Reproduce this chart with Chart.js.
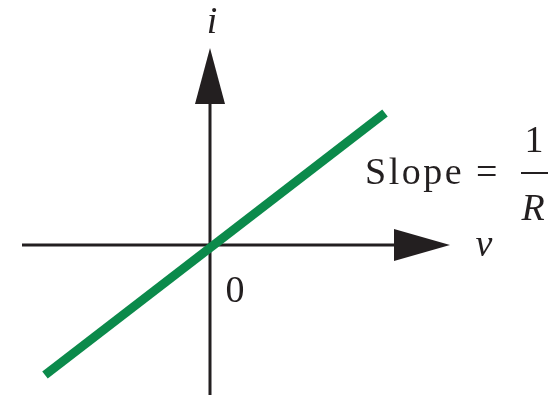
<!DOCTYPE html>
<html>
<head>
<meta charset="utf-8">
<script src="https://cdn.jsdelivr.net/npm/chart.js@4"></script>
<style>
  html, body { margin: 0; padding: 0; background: #fff; }
  #wrap { width: 560px; height: 397px; }
</style>
</head>
<body>
<div id="wrap"><canvas id="ivChart"></canvas></div>
<script>
// resistor i-v characteristic, units: v along x, i along y
const lineV = [-165, 175];
const lineI = [-130, 132];
const vAxisRange = [-188, 240];
const iAxisRange = [-150, 197];
const axisLabels = { v: 'v', i: 'i', origin: '0' };
const slopeText = ['Slope =', '1', 'R'];

const ink = '#231f20';

function spacedText(ctx, text, x, y, gap) {
    for (const ch of text) {
        ctx.fillText(ch, x, y);
        x += ctx.measureText(ch).width + gap;
    }
}

const axesPlugin = {
    id: 'axesPlugin',
    beforeDatasetsDraw(chart) {
        const ctx = chart.ctx;
        const x = chart.scales.x, y = chart.scales.y;
        const x0 = x.getPixelForValue(0), y0 = y.getPixelForValue(0);
        const xl = x.getPixelForValue(vAxisRange[0]), xr = x.getPixelForValue(vAxisRange[1]);
        const yb = y.getPixelForValue(iAxisRange[0]), yt = y.getPixelForValue(iAxisRange[1]);
        ctx.save();
        ctx.strokeStyle = ink;
        ctx.fillStyle = ink;
        ctx.lineWidth = 3;
        // horizontal axis
        ctx.beginPath();
        ctx.moveTo(xl, y0);
        ctx.lineTo(xr - 40, y0);
        ctx.stroke();
        ctx.beginPath();
        ctx.moveTo(xr, y0);
        ctx.lineTo(xr - 56, y0 - 16);
        ctx.lineTo(xr - 56, y0 + 16);
        ctx.closePath();
        ctx.fill();
        // vertical axis
        ctx.beginPath();
        ctx.moveTo(x0, yb);
        ctx.lineTo(x0, yt + 40);
        ctx.stroke();
        ctx.beginPath();
        ctx.moveTo(x0, yt);
        ctx.lineTo(x0 - 15, yt + 56);
        ctx.lineTo(x0 + 15, yt + 56);
        ctx.closePath();
        ctx.fill();
        ctx.restore();
    },
    afterDatasetsDraw(chart) {
        const ctx = chart.ctx;
        const x0 = chart.scales.x.getPixelForValue(0);
        const y0 = chart.scales.y.getPixelForValue(0);
        ctx.save();
        ctx.fillStyle = ink;
        ctx.font = 'italic 38px serif';
        ctx.textAlign = 'center';
        ctx.fillText(axisLabels.i, x0 + 2, 33);
        ctx.fillText(axisLabels.v, 484, y0 + 11);
        ctx.fillText(slopeText[2], 533, 220);
        ctx.font = '38px serif';
        ctx.fillText(axisLabels.origin, x0 + 25, y0 + 57);
        ctx.fillText(slopeText[1], 534, 152);
        ctx.fillRect(521, 172, 27, 2);
        ctx.textAlign = 'left';
        spacedText(ctx, slopeText[0], 365, 184, 2.5);
        ctx.restore();
    }
};

new Chart(document.getElementById('ivChart'), {
    type: 'scatter',
    data: {
        datasets: [{
            data: lineV.map((v, k) => ({ x: v, y: lineI[k] })),
            showLine: true,
            borderColor: '#0b8a4b',
            borderWidth: 9,
            borderCapStyle: 'butt',
            pointRadius: 0
        }]
    },
    options: {
        responsive: true,
        maintainAspectRatio: false,
        animation: false,
        layout: { padding: 0 },
        plugins: { legend: { display: false }, tooltip: { enabled: false } },
        scales: {
            x: { type: 'linear', display: false, min: -210, max: 350 },
            y: { type: 'linear', display: false, min: -152, max: 245 }
        }
    },
    plugins: [axesPlugin]
});
</script>
</body>
</html>
